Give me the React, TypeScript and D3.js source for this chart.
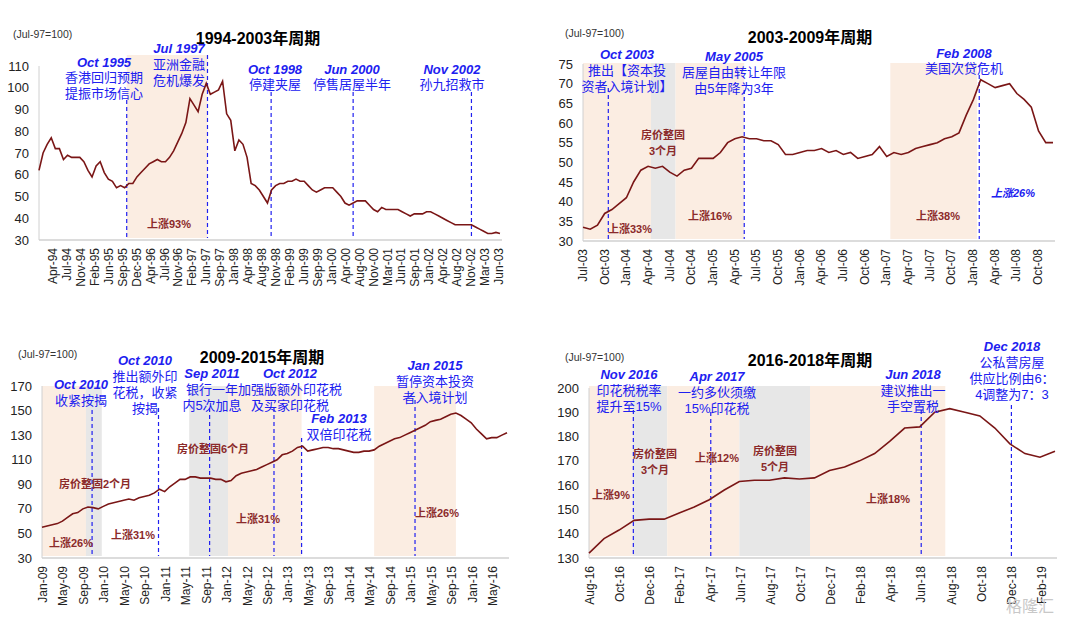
import * as d3 from "d3"

// ---- data (monthly index, Jul-97 = 100) ----
const cycle1 = [62, 70, 74, 77, 72, 72, 67, 69, 68, 68, 68, 66, 62, 59, 64, 66, 61, 58, 57, 54, 55, 54, 56, 56, 59, 61, 63, 65, 66, 67, 66, 66, 68, 71, 75, 79, 84, 95, 92, 89, 97, 102, 97, 98, 99, 103, 88, 85, 71, 76, 74, 68, 56, 55, 53, 50, 47, 53, 55, 56, 56, 57, 57, 58, 57, 57, 55, 53, 52, 53, 54, 54, 54, 52, 50, 47, 46, 47, 48, 48, 48, 46, 44, 43, 45, 44, 44, 44, 44, 43, 42, 41, 42, 42, 42, 43, 43, 42, 41, 40, 39, 38, 37, 37, 37, 37, 37, 36, 35, 34, 33, 33, 33.5, 33]
const cycle2 = [33.5, 33, 34, 37, 38, 39.5, 41, 45, 48, 49, 48.5, 49, 47.5, 46.5, 48, 48.5, 51, 51, 51, 52.5, 55, 56, 56.5, 56, 56, 55.5, 55.5, 54.5, 52, 52, 52.5, 53, 53, 53.5, 52.5, 53, 52, 52.5, 51, 51.5, 52, 54, 51.5, 52.5, 52, 52.5, 53.5, 54, 54.5, 55, 56, 56.5, 57.5, 62, 66, 71, 70, 69, 69.5, 70, 67.5, 66, 64, 58, 55, 55]
const cycle3 = [55, 56, 57, 58, 60, 63, 66, 67, 70, 71.5, 71, 70, 72, 74, 75, 76, 77, 78, 77, 79, 80, 81, 83, 86, 84, 88, 91, 94, 94, 96, 96, 95, 95, 95, 94, 94, 92, 93, 97, 99, 100, 101, 102, 104, 106, 108, 110, 114, 115, 117, 120, 121, 117, 118, 119, 120, 120, 119, 119, 118, 117, 116, 116, 117, 117, 118, 121, 123, 125, 127, 128, 130, 132, 134, 136, 138, 141, 142, 143, 145, 147, 148, 146, 143, 140, 135, 131, 127, 128, 128, 130, 132]
const cycle4 = [132, 138, 141.5, 145.5, 146, 146, 148.5, 151, 154, 158, 161.5, 162, 162, 163, 162.5, 163, 166, 167.5, 170, 173, 178, 183.5, 184, 190, 191.5, 190, 188.5, 183.5, 177, 173, 171.5, 174]

const ticks1 = ["Apr-94", "Jul-94", "Nov-94", "Feb-95", "Jun-95", "Sep-95", "Dec-95", "Apr-96", "Jul-96", "Nov-96", "Feb-97", "Jun-97", "Sep-97", "Jan-98", "Apr-98", "Aug-98", "Nov-98", "Feb-99", "Jun-99", "Sep-99", "Jan-00", "Apr-00", "Aug-00", "Nov-00", "Mar-01", "Jun-01", "Sep-01", "Jan-02", "Apr-02", "Aug-02", "Nov-02", "Mar-03", "Jun-03"]
const ticks2 = ["Jul-03", "Oct-03", "Jan-04", "Apr-04", "Jul-04", "Oct-04", "Jan-05", "Apr-05", "Jul-05", "Oct-05", "Jan-06", "Apr-06", "Jul-06", "Oct-06", "Jan-07", "Apr-07", "Jul-07", "Oct-07", "Jan-08", "Apr-08", "Jul-08", "Oct-08"]
const ticks3 = ["Jan-09", "May-09", "Sep-09", "Jan-10", "May-10", "Sep-10", "Jan-11", "May-11", "Sep-11", "Jan-12", "May-12", "Sep-12", "Jan-13", "May-13", "Sep-13", "Jan-14", "May-14", "Sep-14", "Jan-15", "May-15", "Sep-15", "Jan-16", "May-16"]
const ticks4 = ["Aug-16", "Oct-16", "Dec-16", "Feb-17", "Apr-17", "Jun-17", "Aug-17", "Oct-17", "Dec-17", "Feb-18", "Apr-18", "Jun-18", "Aug-18", "Oct-18", "Dec-18", "Feb-19"]

// event month positions (index into each series)
const events1 = [21.5, 41.3, 56.9, 77, 106]
const events2 = [3.5, 22.3, 54.8]
const events3 = [9.8, 22.8, 32.8, 45.4, 50.8, 73]
const events4 = [2.95, 8.1, 22.1, 28.1]

// shaded periods [from, to, kind]
const bands1: [number, number, string][] = [[21.5, 41.3, "up"]]
const bands2: [number, number, string][] = [[0, 9.4, "up"], [9.4, 12.8, "flat"], [12.8, 22.3, "up"], [42.5, 54.5, "up"]]
const bands3: [number, number, string][] = [[0, 8.6, "up"], [8.6, 11.7, "flat"], [28.8, 36.4, "flat"], [36.4, 50.8, "up"], [65, 81, "up"]]
const bands4: [number, number, string][] = [[0, 2.9, "up"], [2.9, 5.2, "flat"], [5.2, 10, "up"], [10, 14.7, "flat"], [14.7, 23.7, "up"]]

const LINE = "#7a1616"
const BLUE = "#2020f0"
const RED = "#8b2a2a"
const FONT = "Liberation Sans, Arial, Noto Sans CJK SC, sans-serif"

type Note = { x: number; y: number; lines: string[]; kind: "date" | "text" | "red" | "blueItalic" }

const notes1: Note[] = [
  { x: 104, y: 62, lines: ["Oct 1995"], kind: "date" },
  { x: 104, y: 77, lines: ["香港回归预期", "提振市场信心"], kind: "text" },
  { x: 179, y: 48, lines: ["Jul 1997"], kind: "date" },
  { x: 179, y: 64, lines: ["亚洲金融", "危机爆发"], kind: "text" },
  { x: 275, y: 69, lines: ["Oct 1998"], kind: "date" },
  { x: 275, y: 84, lines: ["停建夹屋"], kind: "text" },
  { x: 352, y: 69, lines: ["Jun 2000"], kind: "date" },
  { x: 352, y: 84, lines: ["停售居屋半年"], kind: "text" },
  { x: 452, y: 69, lines: ["Nov 2002"], kind: "date" },
  { x: 452, y: 84, lines: ["孙九招救市"], kind: "text" },
  { x: 169, y: 223, lines: ["上涨93%"], kind: "red" },
]
const notes2: Note[] = [
  { x: 627, y: 54, lines: ["Oct 2003"], kind: "date" },
  { x: 627, y: 70, lines: ["推出【资本投", "资者入境计划】"], kind: "text" },
  { x: 734, y: 56, lines: ["May 2005"], kind: "date" },
  { x: 734, y: 72, lines: ["居屋自由转让年限", "由5年降为3年"], kind: "text" },
  { x: 964, y: 53, lines: ["Feb 2008"], kind: "date" },
  { x: 964, y: 68, lines: ["美国次贷危机"], kind: "text" },
  { x: 663, y: 134, lines: ["房价整固", "3个月"], kind: "red" },
  { x: 630, y: 228, lines: ["上涨33%"], kind: "red" },
  { x: 710, y: 215, lines: ["上涨16%"], kind: "red" },
  { x: 938, y: 215, lines: ["上涨38%"], kind: "red" },
  { x: 1013, y: 192, lines: ["上涨26%"], kind: "blueItalic" },
]
const notes3: Note[] = [
  { x: 81, y: 384, lines: ["Oct 2010"], kind: "date" },
  { x: 81, y: 400, lines: ["收紧按揭"], kind: "text" },
  { x: 145, y: 360, lines: ["Oct 2010"], kind: "date" },
  { x: 145, y: 376, lines: ["推出额外印", "花税，收紧", "按揭"], kind: "text" },
  { x: 212, y: 373, lines: ["Sep 2011"], kind: "date" },
  { x: 212, y: 389, lines: ["银行一年", "内5次加息"], kind: "text" },
  { x: 290, y: 373, lines: ["Oct 2012"], kind: "date" },
  { x: 290, y: 389, lines: ["加强版额外印花税", "及买家印花税"], kind: "text" },
  { x: 339, y: 418, lines: ["Feb 2013"], kind: "date" },
  { x: 339, y: 434, lines: ["双倍印花税"], kind: "text" },
  { x: 435, y: 365, lines: ["Jan 2015"], kind: "date" },
  { x: 435, y: 381, lines: ["暂停资本投资", "者入境计划"], kind: "text" },
  { x: 213, y: 448, lines: ["房价整固6个月"], kind: "red" },
  { x: 95, y: 483, lines: ["房价整固2个月"], kind: "red" },
  { x: 71, y: 542, lines: ["上涨26%"], kind: "red" },
  { x: 133, y: 534, lines: ["上涨31%"], kind: "red" },
  { x: 258, y: 518, lines: ["上涨31%"], kind: "red" },
  { x: 437, y: 512, lines: ["上涨26%"], kind: "red" },
]
const notes4: Note[] = [
  { x: 629, y: 374, lines: ["Nov 2016"], kind: "date" },
  { x: 629, y: 390, lines: ["印花税税率", "提升至15%"], kind: "text" },
  { x: 717, y: 376, lines: ["Apr 2017"], kind: "date" },
  { x: 717, y: 392, lines: ["一约多伙须缴", "15%印花税"], kind: "text" },
  { x: 913, y: 374, lines: ["Jun 2018"], kind: "date" },
  { x: 913, y: 390, lines: ["建议推出一", "手空置税"], kind: "text" },
  { x: 1012, y: 346, lines: ["Dec 2018"], kind: "date" },
  { x: 1012, y: 362, lines: ["公私营房屋", "供应比例由6：", "4调整为7：3"], kind: "text" },
  { x: 655, y: 453, lines: ["房价整固", "3个月"], kind: "red" },
  { x: 717, y: 457, lines: ["上涨12%"], kind: "red" },
  { x: 775, y: 450, lines: ["房价整固", "5个月"], kind: "red" },
  { x: 611, y: 494, lines: ["上涨9%"], kind: "red" },
  { x: 888, y: 498, lines: ["上涨18%"], kind: "red" },
]

type PanelProps = {
  title: string
  titleX: number
  titleY: number
  noteX: number
  noteY: number
  left: number
  right: number
  top: number
  bottom: number
  bandTop: number
  yDomain: [number, number]
  yStep: number
  data: number[]
  ticks: string[]
  tickRange: [number, number]
  events: number[]
  eventTop: number[]
  bands: [number, number, string][]
  notes: Note[]
}

function Panel(p: PanelProps) {
  const x = d3.scaleLinear().domain([0, p.data.length - 1]).range([p.left, p.right])
  const y = d3.scaleLinear().domain(p.yDomain).range([p.bottom, p.top])
  const tx = d3.scalePoint<string>().domain(p.ticks).range(p.tickRange)
  const line = d3.line<number>().x((_, i) => x(i)).y((d) => y(d))
  const yTicks = d3.range(p.yDomain[0], p.yDomain[1] + 0.1, p.yStep)

  return (
    <g fontFamily={FONT}>
      {p.bands.map(([a, b, k], i) => (
        <rect key={i} x={x(a)} y={p.bandTop} width={x(b) - x(a)} height={p.bottom - 2 - p.bandTop}
          fill={k === "up" ? "#fbede2" : "#e7e7e7"} />
      ))}
      <line x1={p.left} x2={p.left} y1={p.top} y2={p.bottom} stroke="#d0d0d0" />
      <line x1={p.left} x2={p.right + 2} y1={p.bottom} y2={p.bottom} stroke="#d0d0d0" strokeWidth={1.5} />
      {yTicks.map((t) => (
        <text key={t} x={p.left - 10} y={y(t) + 4.5} textAnchor="end" fontSize={13} fill="#222">{t}</text>
      ))}
      {p.ticks.map((t) => (
        <text key={t} transform={`translate(${(tx(t) ?? 0) + 4},${p.bottom + 8}) rotate(-90)`}
          textAnchor="end" fontSize={12} fill="#222">{t}</text>
      ))}
      {p.events.map((e, i) => (
        <line key={i} x1={x(e)} x2={x(e)} y1={p.eventTop[i]} y2={p.bottom - 2}
          stroke={BLUE} strokeWidth={1.2} strokeDasharray="4,3" />
      ))}
      <path d={line(p.data) ?? ""} fill="none" stroke={LINE} strokeWidth={1.6} />
      <text x={p.titleX} y={p.titleY} textAnchor="middle" fontSize={16} fontWeight="bold" fill="#000">{p.title}</text>
      <text x={p.noteX} y={p.noteY} fontSize={10.5} fill="#333">(Jul-97=100)</text>
      {p.notes.map((n, i) =>
        n.lines.map((s, j) => (
          <text key={`${i}-${j}`} x={n.x} y={n.y + j * 16 + 4.5} textAnchor="middle"
            fontSize={n.kind === "red" || n.kind === "blueItalic" ? 11 : 13}
            fontWeight={n.kind === "date" || n.kind === "red" || n.kind === "blueItalic" ? "bold" : "normal"}
            fontStyle={n.kind === "date" || n.kind === "blueItalic" ? "italic" : "normal"}
            fill={n.kind === "red" ? RED : BLUE}>{s}</text>
        ))
      )}
    </g>
  )
}

export default function App() {
  return (
    <svg width={1080} height={624} style={{ position: "absolute", left: 0, top: 0, background: "#fff" }}>
      <Panel title="1994-2003年周期" titleX={258} titleY={44} noteX={13} noteY={38}
        left={39} right={500} top={66} bottom={240} bandTop={55}
        yDomain={[30, 110]} yStep={10} data={cycle1} ticks={ticks1} tickRange={[53, 499]}
        events={events1} eventTop={[100, 55, 92, 92, 92]} bands={bands1} notes={notes1} />
      <Panel title="2003-2009年周期" titleX={810} titleY={43} noteX={565} noteY={37}
        left={583} right={1053} top={64} bottom={241} bandTop={63}
        yDomain={[30, 75]} yStep={5} data={cycle2} ticks={ticks2} tickRange={[583, 1038]}
        events={events2} eventTop={[88, 90, 75]} bands={bands2} notes={notes2} />
      <Panel title="2009-2015年周期" titleX={262} titleY={363} noteX={18} noteY={358}
        left={42} right={507} top={386} bottom={558} bandTop={386}
        yDomain={[30, 170]} yStep={20} data={cycle3} ticks={ticks3} tickRange={[43, 493]}
        events={events3} eventTop={[410, 408, 408, 408, 438, 400]} bands={bands3} notes={notes3} />
      <Panel title="2016-2018年周期" titleX={810} titleY={366} noteX={565} noteY={361}
        left={589} right={1055} top={388} bottom={558} bandTop={386}
        yDomain={[130, 200]} yStep={10} data={cycle4} ticks={ticks4} tickRange={[590, 1042]}
        events={events4} eventTop={[410, 412, 410, 405]} bands={bands4} notes={notes4} />
      <text x={1030} y={612} textAnchor="middle" fontSize={16} fill="#c8c8c8" fontFamily={FONT}>格隆汇</text>
    </svg>
  )
}
